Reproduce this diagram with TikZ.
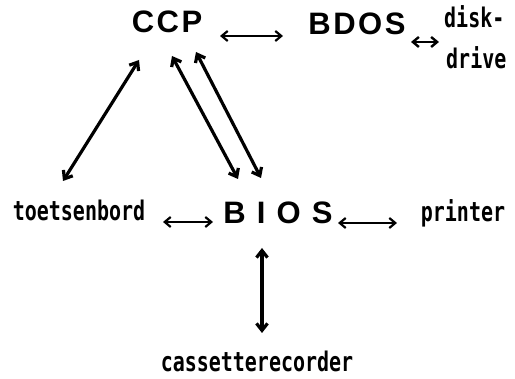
\documentclass[tikz,border=0pt]{standalone}
\usepackage{fontspec}
\usetikzlibrary{arrows.meta}
\newfontfamily\capsfont[LetterSpace=8]{Liberation Sans Bold}
\newfontfamily\lblfont{DejaVu Sans Mono Bold}
\newcommand{\lbl}[1]{\scalebox{0.74}[1]{\lblfont\fontsize{27}{30}\selectfont #1}}
\begin{document}
\begin{tikzpicture}[x=1pt,y=-1pt,
  big/.style={inner sep=0pt,anchor=base,font=\capsfont\fontsize{31}{34}\selectfont},
  lab/.style={inner sep=0pt,anchor=base},
  conn/.style={{Straight Barb[length=7pt,width=11pt]}-{Straight Barb[length=7pt,width=11pt]},line width=3.2pt},
  hconn/.style={{Straight Barb[length=6pt,width=10pt]}-{Straight Barb[length=6pt,width=10pt]},line width=2.2pt}]
\useasboundingbox (0,0) rectangle (515,379);
\node[big] (CCP) at (167,33) {CCP};
\node[big] (BDOS) at (357,35) {BDOS};
\node[big] (BIOS) at (278,224) {B I O S};
\node[lab] (toets) at (79,221) {\lbl{toetsenbord}};
\node[lab] (printer) at (463,222) {\lbl{printer}};
\node[lab] (cass) at (257,372) {\lbl{cassetterecorder}};
\node[lab,anchor=base west] (disk) at (444,28) {\lbl{disk-}};
\node[lab,anchor=base west] (drive) at (446,69) {\lbl{drive}};
% connector end points
\coordinate (c1) at (220,36); \coordinate (b1) at (283,36);
\coordinate (b2) at (411,42); \coordinate (d2) at (439,42);
\coordinate (c3) at (139,60); \coordinate (t3) at (63,181);
\coordinate (c4) at (172,56); \coordinate (s4) at (238,179);
\coordinate (c5) at (196,52); \coordinate (s5) at (261,178);
\coordinate (t6) at (163,222); \coordinate (s6) at (213,222);
\coordinate (s7) at (338,223); \coordinate (p7) at (397,223);
\coordinate (s8) at (262,248); \coordinate (r8) at (262,333);
\draw[hconn] (c1) -- (b1);
\draw[hconn,line width=2.4pt] (b2) -- (d2);
\draw[conn] (c3) -- (t3);
\draw[conn] (c4) -- (s4);
\draw[conn] (c5) -- (s5);
\draw[hconn] (t6) -- (s6);
\draw[hconn] (s7) -- (p7);
\draw[conn] (s8) -- (r8);
\end{tikzpicture}
\end{document}
